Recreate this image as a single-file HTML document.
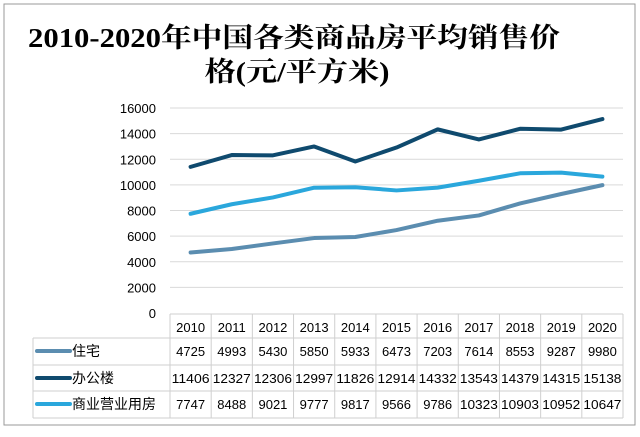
<!DOCTYPE html>
<html><head><meta charset="utf-8"><style>
body{margin:0;background:#fff}
svg text{font-family:"Liberation Sans","Noto Sans CJK SC",sans-serif}
</style></head><body>
<svg id="c" width="640" height="432">
<rect x="4" y="4" width="631" height="421" fill="#fff" stroke="#999"/>
<text x="294" y="47" text-anchor="middle" font-size="27" font-weight="bold" textLength="532" lengthAdjust="spacingAndGlyphs" style="font-family:'Liberation Serif','Noto Serif CJK SC',serif">2010-2020年中国各类商品房平均销售价</text>
<text x="297" y="81" text-anchor="middle" font-size="27" font-weight="bold" textLength="185" lengthAdjust="spacingAndGlyphs" style="font-family:'Liberation Serif','Noto Serif CJK SC',serif">格(元/平方米)</text>
<g id="grid"></g><g id="lines"></g><g id="table"></g>
</svg>
<script>
const years=["2010","2011","2012","2013","2014","2015","2016","2017","2018","2019","2020"];
const zhuzhai=[4725,4993,5430,5850,5933,6473,7203,7614,8553,9287,9980];
const bangong=[11406,12327,12306,12997,11826,12914,14332,13543,14379,14315,15138];
const shangye=[7747,8488,9021,9777,9817,9566,9786,10323,10903,10952,10647];
const yTicks=[0,2000,4000,6000,8000,10000,12000,14000,16000];
const seriesNames=["住宅","办公楼","商业营业用房"];
const seriesColors=["#5b8db0","#0f4a6e","#2aa7dc"];
const seriesData=[zhuzhai,bangong,shangye];
const NS="http://www.w3.org/2000/svg";
const x0=170,x1=623,cw=(x1-x0)/years.length;
const yB=313,yT=108;
const X=i=>x0+cw*(i+0.5);
const Y=v=>yB-(v/16000)*(yB-yT);
function mk(tag,attrs,parent,txt){const e=document.createElementNS(NS,tag);for(const k in attrs)e.setAttribute(k,attrs[k]);if(txt!=null)e.textContent=txt;document.getElementById(parent).appendChild(e);return e;}
yTicks.forEach(t=>{
  if(t>0){const l=mk("line",{x1:x0,x2:x1,y1:Y(t),y2:Y(t),stroke:"#d9d9d9"},"grid");
  
  }
  const tx=mk("text",{x:156,y:Y(t)+5,"text-anchor":"end","font-size":"13"},"grid",t);
  
  
});
seriesData.forEach((d,s)=>{
  const p=mk("polyline",{points:d.map((v,i)=>X(i)+","+Y(v)).join(" "),fill:"none",stroke:seriesColors[s],"stroke-width":"4","stroke-linejoin":"round","stroke-linecap":"round"},"lines");
  
  
});
const rowY=[314,338,365,391,418];
const lc="#cfcfcf";
rowY.forEach((y,r)=>{const l=mk("line",{x1:r==0?x0:33,x2:x1,y1:y,y2:y,stroke:lc},"table");
  
  });
for(let i=0;i<=years.length;i++){const l=mk("line",{x1:x0+cw*i,x2:x0+cw*i,y1:314,y2:418,stroke:lc},"table");
  
  }
const l0=mk("line",{x1:33,x2:33,y1:338,y2:418,stroke:lc},"table");


years.forEach((yr,i)=>{const t=mk("text",{x:X(i),y:332,"text-anchor":"middle","font-size":"13"},"table",yr);
  
  });
seriesData.forEach((d,s)=>{
  const cy=rowY[s+1]+18;
  const k=mk("line",{x1:37,x2:70,y1:cy-5,y2:cy-5,stroke:seriesColors[s],"stroke-width":"4","stroke-linecap":"round"},"table");
  
  
  const n=mk("text",{x:72,y:cy,"font-size":"14"},"table",seriesNames[s]);
  
  
  d.forEach((v,i)=>{const t=mk("text",{x:X(i),y:cy,"text-anchor":"middle","font-size":"13"},"table",v);
    if(String(v).length>4){t.setAttribute("textLength","38");t.setAttribute("lengthAdjust","spacingAndGlyphs");}
    
    });
});
</script>
</body></html>
